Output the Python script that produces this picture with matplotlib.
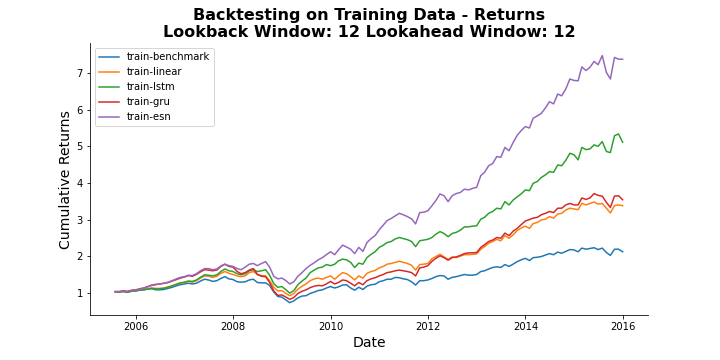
import matplotlib
matplotlib.use("Agg")
import matplotlib.pyplot as plt
import pandas as pd

dates = pd.date_range("2005-07-31", "2015-12-31", freq="ME")

benchmark = [
    1.03, 1.03, 1.04, 1.02, 1.05, 1.05,
    1.08, 1.08, 1.10, 1.11, 1.08, 1.08, 1.09, 1.12, 1.15, 1.19, 1.22, 1.24,
    1.26, 1.24, 1.26, 1.32, 1.37, 1.35, 1.31, 1.33, 1.39, 1.44, 1.38, 1.36,
    1.30, 1.29, 1.30, 1.35, 1.37, 1.28, 1.27, 1.27, 1.20, 1.02, 0.90, 0.88,
    0.80, 0.73, 0.78, 0.86, 0.91, 0.92, 0.98, 1.02, 1.06, 1.08, 1.13, 1.17,
    1.13, 1.16, 1.21, 1.22, 1.13, 1.07, 1.15, 1.09, 1.18, 1.22, 1.23, 1.30,
    1.33, 1.37, 1.37, 1.42, 1.41, 1.38, 1.36, 1.30, 1.21, 1.33, 1.33, 1.35,
    1.39, 1.44, 1.47, 1.46, 1.37, 1.42, 1.44, 1.47, 1.50, 1.48, 1.48, 1.50,
    1.58, 1.60, 1.65, 1.69, 1.71, 1.69, 1.77, 1.72, 1.78, 1.85, 1.90, 1.94,
    1.88, 1.96, 1.97, 1.99, 2.03, 2.07, 2.04, 2.11, 2.08, 2.13, 2.18, 2.17,
    2.12, 2.22, 2.19, 2.21, 2.23, 2.18, 2.22, 2.10, 2.02, 2.19, 2.19, 2.12,
]

linear = [
    1.03, 1.03, 1.04, 1.02, 1.05, 1.06,
    1.08, 1.09, 1.11, 1.13, 1.12, 1.12, 1.13, 1.16, 1.19, 1.23, 1.26, 1.28,
    1.31, 1.29, 1.33, 1.40, 1.46, 1.45, 1.42, 1.45, 1.53, 1.58, 1.53, 1.50,
    1.46, 1.44, 1.46, 1.55, 1.58, 1.50, 1.47, 1.46, 1.33, 1.15, 1.05, 1.06,
    0.98, 0.92, 0.98, 1.10, 1.18, 1.24, 1.33, 1.38, 1.40, 1.37, 1.42, 1.46,
    1.37, 1.46, 1.55, 1.52, 1.44, 1.35, 1.46, 1.40, 1.53, 1.58, 1.61, 1.68,
    1.72, 1.78, 1.80, 1.83, 1.86, 1.83, 1.80, 1.75, 1.62, 1.77, 1.78, 1.80,
    1.93, 1.99, 2.05, 1.98, 1.91, 1.98, 1.96, 2.00, 2.04, 2.04, 2.05, 2.06,
    2.19, 2.26, 2.35, 2.40, 2.46, 2.42, 2.56, 2.49, 2.58, 2.70, 2.77, 2.82,
    2.76, 2.89, 2.92, 2.99, 3.01, 3.08, 3.04, 3.15, 3.17, 3.26, 3.31, 3.29,
    3.27, 3.44, 3.40, 3.44, 3.48, 3.42, 3.44, 3.31, 3.18, 3.38, 3.40, 3.38,
]

lstm = [
    1.03, 1.02, 1.03, 1.01, 1.04, 1.05,
    1.07, 1.08, 1.10, 1.12, 1.10, 1.11, 1.12, 1.15, 1.19, 1.23, 1.27, 1.29,
    1.32, 1.31, 1.35, 1.42, 1.49, 1.48, 1.46, 1.49, 1.58, 1.65, 1.60, 1.58,
    1.52, 1.49, 1.52, 1.60, 1.63, 1.58, 1.60, 1.63, 1.48, 1.25, 1.15, 1.17,
    1.08, 0.99, 1.06, 1.22, 1.32, 1.40, 1.55, 1.62, 1.68, 1.70, 1.77, 1.74,
    1.78, 1.87, 1.92, 1.90, 1.83, 1.69, 1.81, 1.78, 1.96, 2.05, 2.12, 2.24,
    2.30, 2.37, 2.40, 2.47, 2.51, 2.48, 2.45, 2.40, 2.26, 2.42, 2.44, 2.46,
    2.51, 2.60, 2.67, 2.62, 2.53, 2.62, 2.65, 2.71, 2.80, 2.80, 2.82, 2.83,
    3.01, 3.06, 3.17, 3.22, 3.31, 3.29, 3.49, 3.40, 3.53, 3.62, 3.70, 3.81,
    3.79, 3.99, 4.04, 4.15, 4.22, 4.31, 4.29, 4.49, 4.47, 4.62, 4.81, 4.77,
    4.63, 4.97, 4.91, 4.93, 5.04, 5.00, 5.13, 4.86, 4.83, 5.29, 5.34, 5.11,
]

gru = [
    1.03, 1.03, 1.05, 1.04, 1.07, 1.08,
    1.11, 1.13, 1.17, 1.21, 1.23, 1.24, 1.26, 1.28, 1.32, 1.36, 1.40, 1.43,
    1.47, 1.45, 1.50, 1.57, 1.63, 1.62, 1.60, 1.62, 1.72, 1.78, 1.72, 1.70,
    1.58, 1.52, 1.55, 1.62, 1.66, 1.50, 1.45, 1.44, 1.28, 1.05, 0.93, 0.94,
    0.88, 0.82, 0.87, 0.98, 1.04, 1.08, 1.14, 1.18, 1.20, 1.19, 1.24, 1.31,
    1.24, 1.28, 1.35, 1.33, 1.26, 1.19, 1.28, 1.22, 1.33, 1.38, 1.41, 1.46,
    1.50, 1.55, 1.57, 1.60, 1.62, 1.60, 1.58, 1.55, 1.46, 1.68, 1.70, 1.74,
    1.86, 1.94, 2.01, 1.96, 1.89, 1.96, 1.98, 2.02, 2.07, 2.09, 2.09, 2.10,
    2.24, 2.31, 2.40, 2.44, 2.51, 2.49, 2.63, 2.56, 2.68, 2.76, 2.86, 2.96,
    3.00, 3.04, 3.06, 3.13, 3.17, 3.22, 3.19, 3.31, 3.31, 3.40, 3.44, 3.40,
    3.40, 3.59, 3.55, 3.59, 3.71, 3.66, 3.64, 3.47, 3.33, 3.64, 3.65, 3.54,
]

esn = [
    1.03, 1.03, 1.04, 1.03, 1.06, 1.07,
    1.10, 1.12, 1.16, 1.20, 1.22, 1.24, 1.26, 1.29, 1.33, 1.38, 1.42, 1.44,
    1.48, 1.47, 1.52, 1.60, 1.66, 1.66, 1.63, 1.65, 1.73, 1.78, 1.74, 1.72,
    1.66, 1.63, 1.70, 1.78, 1.80, 1.74, 1.80, 1.85, 1.70, 1.45, 1.38, 1.40,
    1.33, 1.24, 1.30, 1.45, 1.55, 1.66, 1.75, 1.82, 1.90, 1.96, 2.04, 2.12,
    2.04, 2.17, 2.30, 2.25, 2.19, 2.07, 2.24, 2.13, 2.37, 2.48, 2.56, 2.72,
    2.85, 2.97, 3.03, 3.10, 3.17, 3.13, 3.08, 3.02, 2.88, 3.19, 3.20, 3.24,
    3.38, 3.52, 3.70, 3.65, 3.49, 3.65, 3.71, 3.74, 3.83, 3.81, 3.85, 3.88,
    4.20, 4.29, 4.47, 4.53, 4.72, 4.70, 4.97, 4.88, 5.10, 5.30, 5.43, 5.54,
    5.50, 5.77, 5.83, 5.90, 6.05, 6.22, 6.16, 6.43, 6.38, 6.57, 6.84, 6.80,
    6.79, 7.17, 7.07, 7.16, 7.32, 7.23, 7.48, 7.02, 6.84, 7.43, 7.38, 7.38,
]

series_names = ["train-benchmark", "train-linear", "train-lstm", "train-gru", "train-esn"]
series_values = [benchmark, linear, lstm, gru, esn]

fig, ax = plt.subplots(figsize=(10, 5), dpi=72)
fig.subplots_adjust(left=0.125, right=0.9, top=0.88, bottom=0.125)
for name, vals in zip(series_names, series_values):
    ax.plot(dates, vals, label=name, linewidth=1.5)

ax.set_title("Backtesting on Training Data - Returns\nLookback Window: 12 Lookahead Window: 12",
             fontsize=16, fontweight="bold")
ax.set_xlabel("Date", fontsize=14)
ax.set_ylabel("Cumulative Returns", fontsize=14)
ax.legend(loc="upper left", fontsize=10)
ax.spines["top"].set_visible(False)
ax.spines["right"].set_visible(False)
fig.savefig("out.png", dpi=72)
